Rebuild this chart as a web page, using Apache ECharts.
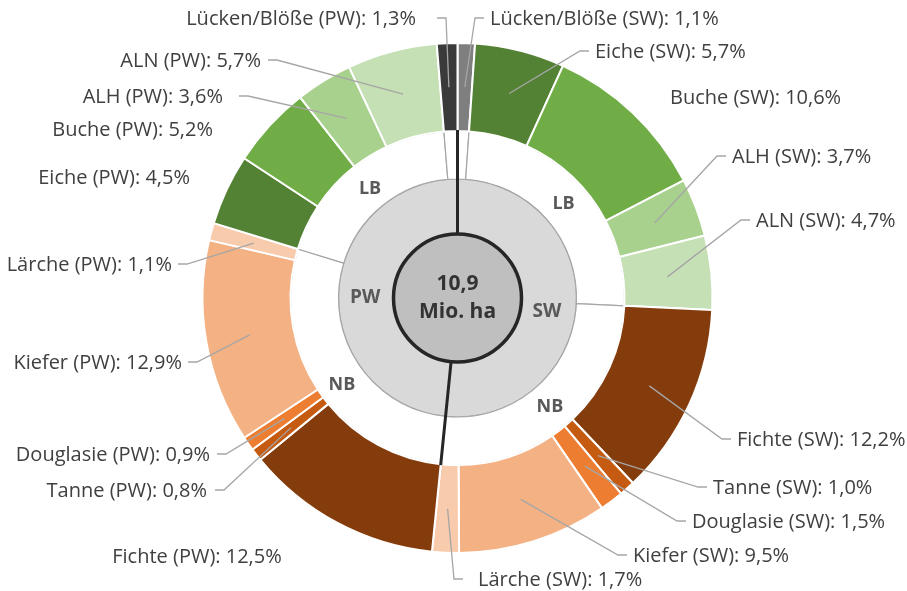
<!DOCTYPE html>
<html>
<head>
    <meta charset="UTF-8">
    <title>Waldfläche nach Baumartengruppen und Eigentum</title>
    <script src="https://cdn.jsdelivr.net/npm/echarts@6/dist/echarts.min.js"></script>
    <style>
        html, body { margin: 0; padding: 0; background: #fff; }
        #chart { width: 907px; height: 591px; }
    </style>
</head>
<body>
<div id="chart"></div>
<script type="text/javascript">

    // species, same order for both ownership types
    const species = ['Lücken/Blöße', 'Eiche', 'Buche', 'ALH', 'ALN', 'Fichte', 'Tanne', 'Douglasie', 'Kiefer', 'Lärche'];
    const speciesGroup = ['gap', 'LB', 'LB', 'LB', 'LB', 'NB', 'NB', 'NB', 'NB', 'NB'];

    // share of total forest area in %
    const swShare = [1.1, 5.7, 10.6, 3.7, 4.7, 12.2, 1.0, 1.5, 9.5, 1.7];
    const pwShare = [1.3, 4.5, 5.2, 3.6, 5.7, 12.5, 0.8, 0.9, 12.9, 1.1];

    const totalArea = '10,9';   // Mio. ha
    const ownerNames = ['SW', 'PW'];

    const speciesColors = ['#7f7f7f', '#548235', '#70ad47', '#a9d18e', '#c5e0b4',
                           '#843c0c', '#c55a11', '#ed7d31', '#f4b183', '#f8cbad'];
    const gapColorPW = '#3a3a3a';

    // order clockwise from 12 o'clock: SW (gap, LB, NB) then PW (NB, LB, gap)
    const swOrder = [0, 1, 2, 3, 4, 5, 6, 7, 8, 9];
    const pwOrder = [5, 6, 7, 8, 9, 1, 2, 3, 4, 0];

    // where Excel put the labels: [x, y, align, extra gap before leader]
    const labelSpots = {
        'Lücken/Blöße (SW)': [490, 19, 'left', 0],
        'Eiche (SW)': [595, 52, 'left', 0],
        'Buche (SW)': [670, 98, 'left', 0],
        'ALH (SW)': [732, 157, 'left', 0],
        'ALN (SW)': [756, 221, 'left', 0],
        'Fichte (SW)': [737, 440, 'left', 0],
        'Tanne (SW)': [713, 488, 'left', 0],
        'Douglasie (SW)': [692, 522, 'left', 0],
        'Kiefer (SW)': [633, 556, 'left', 0],
        'Lärche (SW)': [478, 580, 'left', 9],
        'Fichte (PW)': [197, 557, 'center', 0],
        'Tanne (PW)': [207, 491, 'right', 2],
        'Douglasie (PW)': [210, 455, 'right', 1],
        'Kiefer (PW)': [182, 363, 'right', 0],
        'Lärche (PW)': [172, 265, 'right', 0],
        'Eiche (PW)': [190, 178, 'right', 0],
        'Buche (PW)': [213, 130, 'right', 0],
        'ALH (PW)': [223, 97, 'right', 10],
        'ALN (PW)': [261, 61, 'right', 1],
        'Lücken/Blöße (PW)': [416, 19, 'right', 15]
    };
    const noLeader = ['Buche (SW)', 'Fichte (PW)', 'Eiche (PW)', 'Buche (PW)'];

    const CX = 457.5, CY = 298;
    const R_CORE = 64, R_OWNER = 119, R_GROUP = 167, R_OUTER = 255;
    const FONT = 'Open Sans';

    function fmtPct(v) {
        return v.toFixed(1).replace('.', ',') + '%';
    }

    function sumGroup(shares, group) {
        let s = 0;
        shares.forEach((v, i) => { if (speciesGroup[i] === group) s += v; });
        return Math.round(s * 10) / 10;
    }

    function polar(angleDeg, r) {
        const a = angleDeg * Math.PI / 180;
        return [CX + r * Math.sin(a), CY - r * Math.cos(a)];
    }

    // outer ring data
    const outerData = [];
    swOrder.forEach(i => {
        outerData.push({ name: species[i] + ' (' + ownerNames[0] + ')', value: swShare[i],
                         itemStyle: { color: speciesColors[i] } });
    });
    pwOrder.forEach(i => {
        outerData.push({ name: species[i] + ' (' + ownerNames[1] + ')', value: pwShare[i],
                         itemStyle: { color: i === 0 ? gapColorPW : speciesColors[i] } });
    });

    const grandTotal = outerData.reduce((a, d) => a + d.value, 0);

    // mid angle of each outer slice
    const midAngles = [];
    let cum = 0;
    outerData.forEach(d => {
        midAngles.push((cum + d.value / 2) / grandTotal * 360);
        cum += d.value;
    });

    // LB / NB ring
    const swTotal = swShare.reduce((a, b) => a + b, 0);
    const pwTotal = pwShare.reduce((a, b) => a + b, 0);
    const groupData = [
        { name: '', value: swShare[0] },
        { name: 'LB', value: sumGroup(swShare, 'LB'), label: { offset: [-3, 3] } },
        { name: 'NB', value: sumGroup(swShare, 'NB'), label: { offset: [-3, -2] } },
        { name: 'NB', value: sumGroup(pwShare, 'NB'), label: { offset: [6, 6] } },
        { name: 'LB', value: sumGroup(pwShare, 'LB'), label: { offset: [4, 5] } },
        { name: '', value: pwShare[0] }
    ];

    // black dividers between SW and PW
    const dividerAngles = [0, swTotal / (swTotal + pwTotal) * 360];
    const graphics = dividerAngles.map(a => {
        const p0 = polar(a, R_CORE);
        const p1 = polar(a, R_GROUP + 1);
        return {
            type: 'line', z: 100,
            shape: { x1: p0[0], y1: p0[1], x2: p1[0], y2: p1[1] },
            style: { stroke: '#262626', lineWidth: 3 }
        };
    });

    // leader lines, from the middle of the slice to the label
    outerData.forEach((d, idx) => {
        if (noLeader.indexOf(d.name) >= 0) return;
        const spot = labelSpots[d.name];
        const dir = spot[2] === 'left' ? -1 : 1;
        const gap = 6 + spot[3];
        const ly = spot[1] - 1;
        const start = polar(midAngles[idx], (R_GROUP + R_OUTER) / 2);
        graphics.push({
            type: 'polyline', z: 90, silent: true,
            shape: { points: [start, [spot[0] + dir * (gap + 9), ly], [spot[0] + dir * gap, ly]] },
            style: { stroke: '#a6a6a6', lineWidth: 1.3, fill: null }
        });
    });

    var mychart = echarts.init(document.getElementById('chart'), null, { renderer: 'canvas' });

    var option = {
        animation: false,
        backgroundColor: '#ffffff',
        graphic: graphics,
        series: [
            {
                type: 'pie',
                name: 'owner',
                center: [CX, CY],
                radius: [R_CORE, R_OWNER],
                startAngle: 90,
                silent: true,
                data: [
                    { name: ownerNames[0], value: swTotal, label: { offset: [-5, 9] } },
                    { name: ownerNames[1], value: pwTotal, label: { offset: [2, 4] } }
                ],
                itemStyle: { color: '#d9d9d9', borderColor: '#a6a6a6', borderWidth: 1.2 },
                label: {
                    position: 'inside',
                    color: '#595959',
                    fontFamily: FONT,
                    fontWeight: 'bold',
                    fontSize: 19
                },
                emphasis: { disabled: true }
            },
            {
                type: 'pie',
                name: 'group',
                center: [CX, CY],
                radius: [R_OWNER, R_GROUP],
                startAngle: 90,
                silent: true,
                data: groupData,
                itemStyle: { color: '#ffffff', borderColor: '#a6a6a6', borderWidth: 1.2 },
                label: {
                    position: 'inside',
                    color: '#595959',
                    fontFamily: FONT,
                    fontWeight: 'bold',
                    fontSize: 18
                },
                emphasis: { disabled: true }
            },
            {
                type: 'pie',
                name: 'species',
                center: [CX, CY],
                radius: [R_GROUP, R_OUTER],
                startAngle: 90,
                silent: true,
                avoidLabelOverlap: false,
                data: outerData,
                itemStyle: { borderColor: '#ffffff', borderWidth: 2 },
                label: {
                    show: true,
                    position: 'outside',
                    color: '#404040',
                    fontFamily: FONT,
                    fontSize: 20,
                    formatter: function (p) {
                        return p.name + ': ' + fmtPct(p.value);
                    }
                },
                labelLine: { show: false },
                labelLayout: function (params) {
                    const spot = labelSpots[outerData[params.dataIndex].name];
                    return {
                        x: spot[0],
                        y: spot[1],
                        align: spot[2],
                        verticalAlign: 'middle'
                    };
                },
                emphasis: { disabled: true }
            },
            {
                type: 'pie',
                name: 'total',
                center: [CX, CY],
                radius: [0, R_CORE],
                silent: true,
                data: [{ name: 'total', value: 1 }],
                itemStyle: { color: '#bfbfbf', borderColor: '#262626', borderWidth: 3.5 },
                label: {
                    position: 'center',
                    color: '#333333',
                    fontFamily: FONT,
                    fontWeight: 'bold',
                    fontSize: 21,
                    lineHeight: 28,
                    formatter: totalArea + '\nMio. ha'
                },
                emphasis: { disabled: true }
            }
        ]
    };

    mychart.setOption(option);
</script>
</body>
</html>
